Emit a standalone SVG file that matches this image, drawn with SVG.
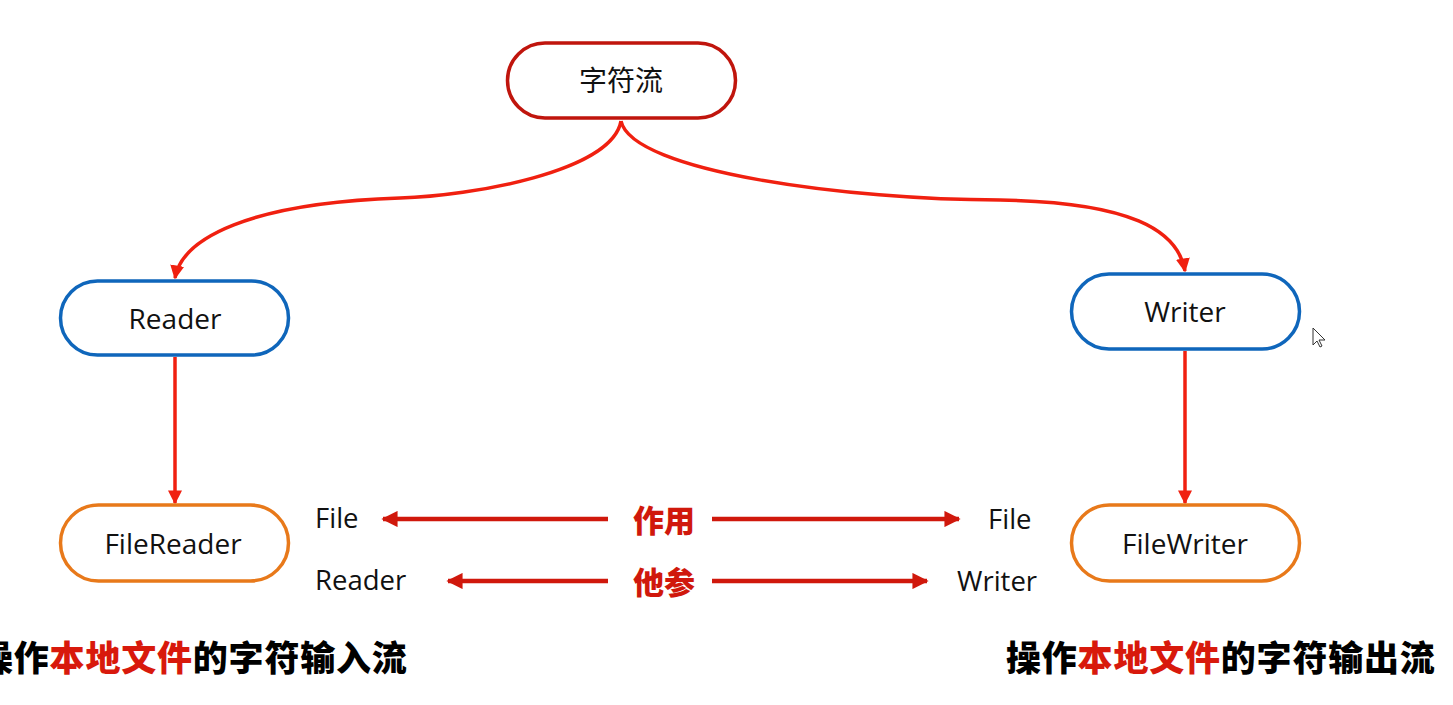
<svg xmlns="http://www.w3.org/2000/svg" width="1453" height="705" viewBox="0 0 1453 705">
<defs>
<style>
.box{fill:#fff;stroke-width:3.5}
.top{stroke:#c0150d}
.blue{stroke:#0f66bb}
.orange{stroke:#e8791a}
.lbl{font-family:"Open Sans","Noto Sans","Noto Sans CJK SC",sans-serif;font-size:28px;fill:#111;text-anchor:middle;dominant-baseline:central}
.side{font-family:"Open Sans","Noto Sans",sans-serif;font-size:27.5px;fill:#111}
.con{fill:none;stroke:#f02010;stroke-width:3.5}
.harr{fill:none;stroke:#d0180c;stroke-width:4.5}
.key{font-family:"Noto Sans CJK SC",sans-serif;font-weight:900;font-size:31px;fill:#d0180c;text-anchor:middle}
.cap{font-family:"Noto Sans CJK SC",sans-serif;font-weight:900;font-size:35px;letter-spacing:0.8px;fill:#000}
.red{fill:#d8190c}
</style>
<marker id="ah" viewBox="0 0 10 10" refX="9" refY="5" markerWidth="4" markerHeight="4" orient="auto" markerUnits="strokeWidth">
<path d="M0,0 L10,5 L0,10 z" fill="#f02010"/>
</marker>
<marker id="ah2" viewBox="0 0 10 10" refX="9" refY="5" markerWidth="3.6" markerHeight="3.6" orient="auto" markerUnits="strokeWidth">
<path d="M0,0 L10,5 L0,10 z" fill="#d0180c"/>
</marker>
</defs>
<rect width="1453" height="705" fill="#fff"/>
<g id="connectors">
<path class="con" d="M621,121 C612,172 470,196 400,198 C250,203 182,238 175,278" marker-end="url(#ah)"/>
<path class="con" d="M621,121 C632,172 850,200 1000,200 C1130,202 1178,230 1185,271" marker-end="url(#ah)"/>
<path class="con" d="M175,357 L175,503" marker-end="url(#ah)"/>
<path class="con" d="M1185,351 L1185,503" marker-end="url(#ah)"/>
<path class="harr" d="M608,519 L383,519" marker-end="url(#ah2)"/>
<path class="harr" d="M712,519 L959,519" marker-end="url(#ah2)"/>
<path class="harr" d="M608,581 L448,581" marker-end="url(#ah2)"/>
<path class="harr" d="M712,581 L927,581" marker-end="url(#ah2)"/>
</g>
<g id="n-charstream">
<rect class="box top" x="507.5" y="43" width="228" height="75" rx="37.5"/>
<text class="lbl" x="621" y="80">字符流</text>
</g>
<g id="n-reader">
<rect class="box blue" x="60.5" y="281" width="228" height="74" rx="37"/>
<text class="lbl" x="175" y="318">Reader</text>
</g>
<g id="n-writer">
<rect class="box blue" x="1071.5" y="274" width="228" height="75" rx="37.5"/>
<text class="lbl" x="1185" y="311">Writer</text>
</g>
<g id="n-filereader">
<rect class="box orange" x="60.5" y="505" width="228" height="76" rx="38"/>
<text class="lbl" x="173" y="543">FileReader</text>
</g>
<g id="n-filewriter">
<rect class="box orange" x="1071.5" y="505" width="228" height="76" rx="38"/>
<text class="lbl" x="1185" y="543">FileWriter</text>
</g>
<g id="labels">
<text class="side" x="315" y="528">File</text>
<text class="side" x="315" y="590">Reader</text>
<text class="side" x="988" y="529">File</text>
<text class="side" x="957" y="591">Writer</text>
<text class="key" x="664" y="532">作用</text>
<text class="key" x="664" y="594">他参</text>
<text class="cap" x="-22" y="671">操作<tspan class="red">本地文件</tspan>的字符输入流</text>
<text class="cap" x="1006" y="671">操作<tspan class="red">本地文件</tspan>的字符输出流</text>
</g>
<path d="M1313,328 L1313,345 L1317,341 L1320,347 L1322,346 L1319,340 L1325,340 Z" fill="#fff" stroke="#333" stroke-width="1"/>
</svg>
